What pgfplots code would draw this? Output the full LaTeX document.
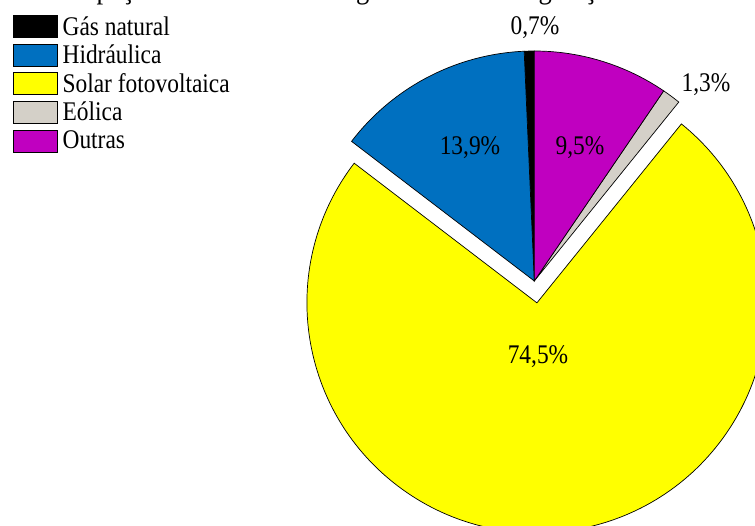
\documentclass[border=0pt]{standalone}
\usepackage{pgfplots}
\pgfplotsset{compat=1.18}
\usepackage{pgfplotstable}
\usepackage{fontspec}
\setmainfont{Liberation Serif}
\usepackage{graphicx}

\definecolor{cgas}{RGB}{0,0,0}
\definecolor{chid}{RGB}{0,112,192}
\definecolor{csol}{RGB}{255,255,0}
\definecolor{ceol}{RGB}{212,208,200}
\definecolor{cout}{RGB}{192,0,192}

\newcommand\T[1]{\scalebox{1}[1.15]{#1}}
\newcommand\fnt{\fontsize{23.5}{27}\selectfont}

\pgfplotstableread{
fonte valor
Gas 0.7
Hid 13.9
Sol 74.5
Eol 1.3
Out 9.5
}\piedata

\begin{document}
\begin{tikzpicture}
\path[use as bounding box] (0,0) rectangle (755bp,526bp);
\clip (0,0) rectangle (755bp,526bp);
\pgfplotstablegetelem{0}{valor}\of\piedata \let\vA\pgfplotsretval
\pgfplotstablegetelem{1}{valor}\of\piedata \let\vB\pgfplotsretval
\pgfplotstablegetelem{2}{valor}\of\piedata \let\vC\pgfplotsretval
\pgfplotstablegetelem{3}{valor}\of\piedata \let\vD\pgfplotsretval
\pgfplotstablegetelem{4}{valor}\of\piedata \let\vE\pgfplotsretval
\pgfmathsetmacro\tot{\vA+\vB+\vC+\vD+\vE}
\pgfmathsetmacro\k{360/\tot}
\pgfmathsetmacro\aA{90}
\pgfmathsetmacro\aB{\aA+\k*\vA}
\pgfmathsetmacro\aC{\aB+\k*\vB}
\pgfmathsetmacro\aD{\aC+\k*\vC}
\pgfmathsetmacro\aE{\aD+\k*\vD}
\pgfmathsetmacro\aF{\aE+\k*\vE}
\pgfmathsetmacro\aM{(\aC+\aD)/2}
\begin{axis}[x=1bp,y=1bp,xmin=0,xmax=755,ymin=0,ymax=526,
  hide axis,scale only axis,clip=false,
  legend image code/.code={\draw[#1] (0bp,-11bp) rectangle (44bp,11bp);},
  legend cell align=left,
  legend style={at={(axis cs:13,511)},anchor=north west,draw=none,fill=none,
    font=\fnt,inner sep=0pt,row sep=6.2bp,column sep=5bp,
    nodes={inner sep=0pt}},
]
\addlegendimage{fill=cgas,draw=black}
\addlegendentry{\T{Gás natural}}
\addlegendimage{fill=chid,draw=black}
\addlegendentry{\T{Hidráulica}}
\addlegendimage{fill=csol,draw=black}
\addlegendentry{\T{Solar fotovoltaica}}
\addlegendimage{fill=ceol,draw=black}
\addlegendentry{\T{Eólica}}
\addlegendimage{fill=cout,draw=black}
\addlegendentry{\T{Outras}}

\fill[cgas,draw=black,line width=0.7bp] (axis cs:534.3,245) -- ++(\aA:230bp) arc[start angle=\aA,end angle=\aB,radius=230bp] -- cycle;
\fill[chid,draw=black,line width=0.7bp] (axis cs:534.3,245) -- ++(\aB:230bp) arc[start angle=\aB,end angle=\aC,radius=230bp] -- cycle;
\fill[csol,draw=black,line width=0.7bp] (axis cs:534.3,245) ++(\aM:22bp) -- ++(\aC:230bp) arc[start angle=\aC,end angle=\aD,radius=230bp] -- cycle;
\fill[ceol,draw=black,line width=0.7bp] (axis cs:534.3,245) -- ++(\aD:230bp) arc[start angle=\aD,end angle=\aE,radius=230bp] -- cycle;
\fill[cout,draw=black,line width=0.7bp] (axis cs:534.3,245) -- ++(\aE:230bp) arc[start angle=\aE,end angle=\aF,radius=230bp] -- cycle;

\node[font=\fnt] at (axis cs:535,498) {\T{0,7\%}};
\node[font=\fnt] at (axis cs:470,378) {\T{13,9\%}};
\node[font=\fnt] at (axis cs:580,378) {\T{9,5\%}};
\node[font=\fnt] at (axis cs:706,441) {\T{1,3\%}};
\node[font=\fnt] at (axis cs:538,169) {\T{74,5\%}};
\node[anchor=base west,font=\fontsize{26.7}{30}\selectfont,inner sep=0pt] at (axis cs:27,527) {\T{Participação das fontes de energia renovável na geração distribuída}};
\end{axis}
\end{tikzpicture}
\end{document}
